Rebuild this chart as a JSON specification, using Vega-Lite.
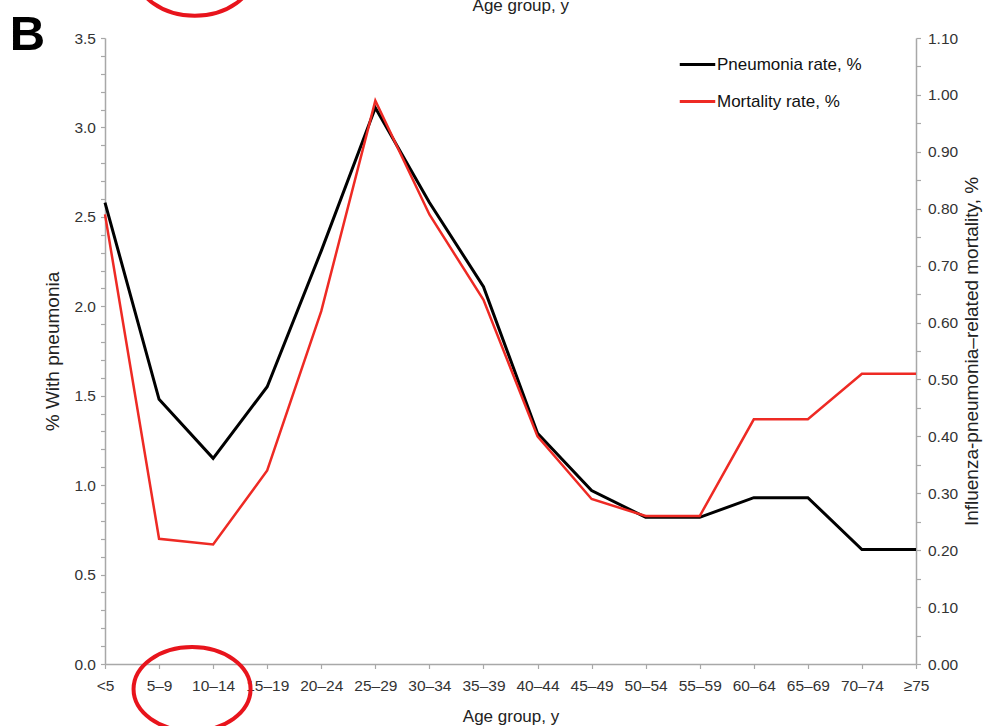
{
  "$schema": "https://vega.github.io/schema/vega-lite/v6.json",
  "width": 811,
  "height": 626,
  "autosize": {"type": "none"},
  "padding": {"left": 105, "top": 38, "right": 69, "bottom": 62},
  "background": "white",
  "config": {
    "font": "Liberation Sans",
    "view": {"stroke": null},
    "axis": {
      "grid": false,
      "domainColor": "#a8a8a8",
      "domainWidth": 1.5,
      "tickColor": "#a8a8a8",
      "tickWidth": 1.2,
      "tickSize": 4.5,
      "labelFont": "Liberation Sans",
      "labelFontSize": 15.5,
      "labelColor": "#333333",
      "titleFont": "Liberation Sans",
      "titleFontSize": 17,
      "titleFontWeight": "normal",
      "titleColor": "#222222"
    },
    "legend": {
      "labelFont": "Liberation Sans",
      "labelFontSize": 17,
      "labelColor": "#111111"
    }
  },
  "layer": [
    {
      "data": {
        "values": [
          {"age": "<5", "pneumonia": 2.58, "mortality": 0.79},
          {"age": "5–9", "pneumonia": 1.48, "mortality": 0.22},
          {"age": "10–14", "pneumonia": 1.15, "mortality": 0.21},
          {"age": "15–19", "pneumonia": 1.55, "mortality": 0.34},
          {"age": "20–24", "pneumonia": 2.31, "mortality": 0.62},
          {"age": "25–29", "pneumonia": 3.11, "mortality": 0.99},
          {"age": "30–34", "pneumonia": 2.58, "mortality": 0.79},
          {"age": "35–39", "pneumonia": 2.11, "mortality": 0.64},
          {"age": "40–44", "pneumonia": 1.29, "mortality": 0.40},
          {"age": "45–49", "pneumonia": 0.97, "mortality": 0.29},
          {"age": "50–54", "pneumonia": 0.82, "mortality": 0.26},
          {"age": "55–59", "pneumonia": 0.82, "mortality": 0.26},
          {"age": "60–64", "pneumonia": 0.93, "mortality": 0.43},
          {"age": "65–69", "pneumonia": 0.93, "mortality": 0.43},
          {"age": "70–74", "pneumonia": 0.64, "mortality": 0.51},
          {"age": "≥75", "pneumonia": 0.64, "mortality": 0.51}
        ]
      },
      "encoding": {
        "x": {
          "field": "age",
          "type": "ordinal",
          "sort": null,
          "scale": {"type": "point", "padding": 0},
          "axis": {
            "title": "Age group, y",
            "labelAngle": 0,
            "labelPadding": 10,
            "titlePadding": 14,
            "labelOverlap": false
          }
        }
      },
      "layer": [
        {
          "mark": {"type": "line", "strokeWidth": 3, "strokeJoin": "miter"},
          "encoding": {
            "y": {
              "field": "pneumonia",
              "type": "quantitative",
              "scale": {"domain": [0, 3.5], "nice": false, "zero": true},
              "axis": {
                "orient": "left",
                "title": "% With pneumonia",
                "titleFontSize": 19,
                "values": [0, 0.1, 0.2, 0.3, 0.4, 0.5, 0.6, 0.7, 0.8, 0.9, 1.0, 1.1, 1.2, 1.3, 1.4, 1.5, 1.6, 1.7, 1.8, 1.9, 2.0, 2.1, 2.2, 2.3, 2.4, 2.5, 2.6, 2.7, 2.8, 2.9, 3.0, 3.1, 3.2, 3.3, 3.4, 3.5],
                "labelExpr": "round(datum.value * 10) % 5 == 0 ? format(datum.value, '.1f') : ''",
                "labelOverlap": false,
                "labelPadding": 5,
                "titlePadding": 11
              }
            },
            "color": {
              "datum": "Pneumonia rate, %",
              "type": "nominal",
              "scale": {
                "domain": ["Pneumonia rate, %", "Mortality rate, %"],
                "range": ["#000000", "#ee2a24"]
              },
              "legend": {
                "title": null,
                "orient": "none",
                "legendX": 573,
                "legendY": 7,
                "symbolType": "stroke",
                "symbolSize": 1260,
                "symbolStrokeWidth": 3,
                "labelOffset": 0,
                "rowPadding": 9
              }
            }
          }
        },
        {
          "mark": {"type": "line", "strokeWidth": 2.5, "strokeJoin": "miter"},
          "encoding": {
            "y": {
              "field": "mortality",
              "type": "quantitative",
              "scale": {"domain": [0, 1.1], "nice": false, "zero": true},
              "axis": {
                "orient": "right",
                "title": "Influenza-pneumonia–related mortality, %",
                "titleFontSize": 19,
                "titleAngle": 270,
                "values": [0, 0.05, 0.1, 0.15, 0.2, 0.25, 0.3, 0.35, 0.4, 0.45, 0.5, 0.55, 0.6, 0.65, 0.7, 0.75, 0.8, 0.85, 0.9, 0.95, 1.0, 1.05, 1.1],
                "labelExpr": "round(datum.value * 100) % 10 == 0 ? format(datum.value, '.2f') : ''",
                "labelOverlap": false,
                "labelPadding": 7,
                "titlePadding": 24
              }
            },
            "color": {"datum": "Mortality rate, %", "type": "nominal"}
          }
        }
      ],
      "resolve": {"scale": {"y": "independent"}}
    },
    {
      "data": {"values": [{}]},
      "layer": [
        {
          "mark": {
            "type": "point",
            "shape": "M -1 0 A 1 0.72 0 1 1 1 0 A 1 0.72 0 1 1 -1 0 Z",
            "filled": false,
            "stroke": "#e8141c",
            "strokeWidth": 4,
            "opacity": 1,
            "size": 13689
          },
          "encoding": {
            "x": {"datum": 1.61, "type": "quantitative", "scale": {"domain": [0, 15], "nice": false, "zero": false}, "axis": null},
            "y": {"datum": -0.14, "type": "quantitative", "scale": {"domain": [0, 3.5], "nice": false, "zero": false}, "axis": null}
          }
        },
        {
          "mark": {
            "type": "point",
            "shape": "M -1 0 A 1 0.72 0 1 1 1 0 A 1 0.72 0 1 1 -1 0 Z",
            "filled": false,
            "stroke": "#e8141c",
            "strokeWidth": 4,
            "opacity": 1,
            "size": 13689
          },
          "encoding": {
            "x": {"datum": 1.66, "type": "quantitative"},
            "y": {"datum": 3.86, "type": "quantitative"}
          }
        },
        {
          "mark": {"type": "text", "text": "B", "font": "Liberation Sans", "fontSize": 49, "fontWeight": "bold", "align": "left", "baseline": "alphabetic", "color": "#000000"},
          "encoding": {
            "x": {"datum": -1.76, "type": "quantitative"},
            "y": {"datum": 3.433, "type": "quantitative"}
          }
        },
        {
          "mark": {"type": "text", "text": "Age group, y", "font": "Liberation Sans", "fontSize": 17, "align": "center", "baseline": "alphabetic", "color": "#222222"},
          "encoding": {
            "x": {"datum": 7.69, "type": "quantitative"},
            "y": {"datum": 3.653, "type": "quantitative"}
          }
        }
      ]
    }
  ],
  "resolve": {"scale": {"x": "independent", "y": "independent"}}
}
